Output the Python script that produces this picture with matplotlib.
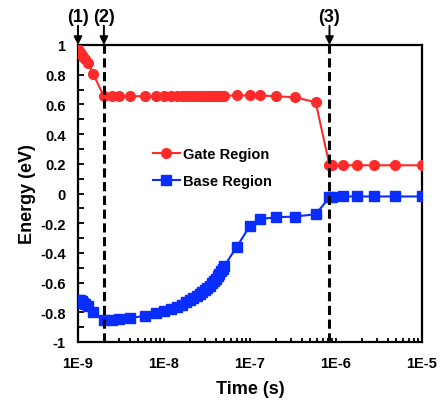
import matplotlib
matplotlib.use("Agg")
import matplotlib.pyplot as plt
from matplotlib.ticker import LogLocator, MultipleLocator, FixedLocator, NullFormatter

plt.rcParams['font.family'] = ['Liberation Sans', 'DejaVu Sans']
plt.rcParams['font.weight'] = 'bold'

time_s = [1.0e-9, 1.05e-9, 1.1e-9, 1.15e-9, 1.2e-9, 1.3e-9, 1.5e-9,
          2.0e-9, 2.5e-9, 3.0e-9, 4.0e-9, 6.0e-9, 8.0e-9,
          1.0e-8, 1.2e-8, 1.4e-8, 1.6e-8, 1.8e-8, 2.0e-8, 2.2e-8, 2.4e-8,
          2.6e-8, 2.8e-8, 3.0e-8, 3.2e-8, 3.4e-8, 3.6e-8, 3.8e-8, 4.0e-8,
          4.2e-8, 4.4e-8, 4.6e-8, 4.8e-8, 5.0e-8,
          7.0e-8, 1.0e-7, 1.3e-7, 2.0e-7, 3.3e-7, 5.8e-7,
          8.4e-7, 9.0e-7, 1.2e-6, 1.75e-6, 2.8e-6, 4.9e-6, 1.0e-5]

gate_region = [0.97, 0.95, 0.935, 0.92, 0.905, 0.88, 0.805,
               0.655, 0.655, 0.655, 0.655, 0.655, 0.655,
               0.655, 0.655, 0.655, 0.655, 0.655, 0.655, 0.655, 0.655,
               0.655, 0.655, 0.655, 0.655, 0.655, 0.655, 0.655, 0.655,
               0.658, 0.658, 0.658, 0.658, 0.658,
               0.66, 0.66, 0.66, 0.655, 0.648, 0.615,
               0.19, 0.19, 0.19, 0.19, 0.19, 0.19, 0.19]

base_region = [-0.72, -0.72, -0.725, -0.735, -0.745, -0.755, -0.795,
               -0.855, -0.855, -0.848, -0.84, -0.823, -0.805,
               -0.79, -0.775, -0.762, -0.748, -0.734, -0.72, -0.706, -0.692,
               -0.678, -0.664, -0.65, -0.636, -0.62, -0.605, -0.59, -0.575,
               -0.558, -0.542, -0.525, -0.507, -0.49,
               -0.36, -0.217, -0.172, -0.16, -0.155, -0.14,
               -0.026, -0.026, -0.02, -0.02, -0.02, -0.02, -0.02]

event_times = [1.0e-9, 2.0e-9, 8.4e-7]
event_labels = ['(1)', '(2)', '(3)']

fig = plt.figure(figsize=(4.44, 4.02), dpi=100)
ax = fig.add_axes([78/444, 1-343/402, (422-78)/444, (343-46)/402])

red = '#FF2A2A'
blue = '#0A2DFF'
ax.plot(time_s, gate_region, color=red, marker='o', ms=7, lw=1.5,
        label='Gate Region', zorder=3)
ax.plot(time_s, base_region, color=blue, marker='s', ms=6.5, lw=1.5,
        label='Base Region', zorder=3)

for t in event_times[1:]:
    ax.axvline(t, color='black', lw=2.2, ls=(0, (3, 1.5)), zorder=4)

for t, lab in zip(event_times, event_labels):
    ax.annotate('', xy=(t, 1.0), xycoords='data',
                xytext=(t, 1.13), textcoords='data',
                arrowprops=dict(arrowstyle='-|>', color='black', lw=1.4,
                                mutation_scale=12, shrinkA=0, shrinkB=0),
                annotation_clip=False)
    ax.text(t, 1.135, lab, ha='center', va='bottom', fontsize=13,
            fontweight='bold', clip_on=False)

ax.set_xscale('log')
ax.set_xlim(1e-9, 1e-5)
ax.set_ylim(-1, 1)
ax.xaxis.set_major_locator(FixedLocator([1e-9, 1e-8, 1e-7, 1e-6, 1e-5]))
ax.set_xticklabels(['1E-9', '1E-8', '1E-7', '1E-6', '1E-5'])
ax.xaxis.set_minor_locator(LogLocator(base=10, subs=range(2, 10)))
ax.xaxis.set_minor_formatter(NullFormatter())
ax.yaxis.set_minor_locator(MultipleLocator(0.1))
ax.set_yticks([1, 0.8, 0.6, 0.4, 0.2, 0, -0.2, -0.4, -0.6, -0.8, -1])
ax.set_yticklabels(['1', '0.8', '0.6', '0.4', '0.2', '0', '-0.2', '-0.4',
                    '-0.6', '-0.8', '-1'])

ax.tick_params(axis='both', which='both', direction='in', top=False,
               right=False, width=1.3, labelsize=10.5)
ax.tick_params(axis='y', which='major', length=4.5, pad=9)
ax.tick_params(axis='y', which='minor', length=4.5)
ax.tick_params(axis='x', which='major', length=3, pad=10)
ax.tick_params(axis='x', which='minor', length=3)
for lbl in ax.get_xticklabels() + ax.get_yticklabels():
    lbl.set_fontweight('bold')
for s in ax.spines.values():
    s.set_linewidth(1.6)

ax.set_xlabel('Time (s)', fontsize=13, fontweight='bold', labelpad=7)
ax.set_ylabel('Energy (eV)', fontsize=13, fontweight='bold', labelpad=3)

leg = ax.legend(loc='upper left', bbox_to_anchor=(0.2, 0.675), frameon=False,
                prop={'weight': 'bold', 'size': 10.5}, handlelength=1.85,
                handletextpad=0.25, labelspacing=0.85, borderaxespad=0)

fig.savefig('out.png', dpi=100)
